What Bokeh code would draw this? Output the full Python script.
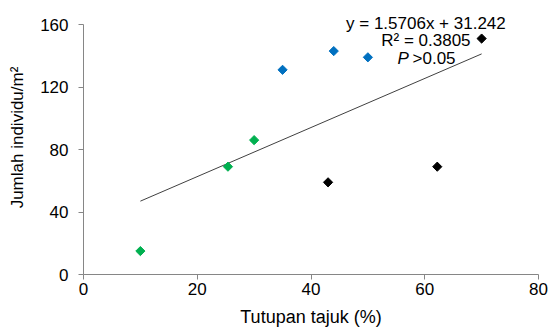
import numpy as np
from bokeh.plotting import figure
from bokeh.models import Range1d, FixedTicker
from bokeh.core.properties import value
from bokeh.embed import file_html
from bokeh.resources import INLINE

# ---- data ----
green_x = [10, 25.4, 30]
green_y = [15, 69, 86]
blue_x = [35, 44, 50]
blue_y = [131, 143, 139]
black_x = [43, 62.2, 70]
black_y = [59, 69, 151]
slope = 1.5706
intercept = 31.242
x_ticks = [0, 20, 40, 60, 80]
y_ticks = [0, 40, 80, 120, 160]
eq_text = "y = 1.5706x + 31.242"
r2_text = "R² = 0.3805"
p_label = "P"
p_text = ">0.05"
x_title = "Tutupan tajuk (%)"
y_title = "Jumlah individu/m²"

FONT = "Liberation Sans"
AXIS_COL = "#868686"

p = figure(width=549, height=329, output_backend="svg", toolbar_location=None,
           x_range=Range1d(0, 80), y_range=Range1d(0, 175.36),
           min_border_left=83, min_border_right=11, min_border_top=0,
           min_border_bottom=55)
p.outline_line_color = None
p.xgrid.visible = False
p.ygrid.visible = False
p.background_fill_color = "white"
p.border_fill_color = "white"

for ax in (p.xaxis[0], p.yaxis[0]):
    ax.axis_line_color = AXIS_COL
    ax.major_tick_line_color = AXIS_COL
    ax.minor_tick_line_color = None
    ax.major_tick_in = 0
    ax.major_tick_out = 5
    ax.major_label_text_font = FONT
    ax.major_label_text_font_size = "17px"
    ax.major_label_text_color = "black"
    ax.axis_label_text_font = FONT
    ax.axis_label_text_font_style = "normal"
    ax.axis_label_text_color = "black"

p.xaxis.axis_label_text_font_size = "18px"
p.yaxis.axis_label_text_font_size = "17px"
p.xaxis.ticker = FixedTicker(ticks=x_ticks)
p.yaxis.ticker = FixedTicker(ticks=y_ticks)
p.yaxis.bounds = (y_ticks[0], y_ticks[-1])
p.xaxis.axis_label = x_title
p.yaxis.axis_label = y_title
p.xaxis.major_label_standoff = 3
p.yaxis.major_label_standoff = 10
p.xaxis.axis_label_standoff = 9
p.yaxis.axis_label_standoff = 10

# trendline
all_x = green_x + blue_x + black_x
tx = np.array([min(all_x), max(all_x)])
p.line(tx, slope * tx + intercept, line_color="#404040", line_width=1)

for xs, ys, col in ((green_x, green_y, "#00B050"),
                    (blue_x, blue_y, "#0070C0"),
                    (black_x, black_y, "#000000")):
    p.scatter(xs, ys, marker="square", size=6.5, angle=np.pi / 4,
              fill_color=col, line_color=col)

# annotation text
txt = dict(text_baseline="alphabetic", text_font=value(FONT),
           text_font_size="17px", text_color="black")
p.text(x=[60.2], y=[160.4], text=[eq_text], text_align="center", **txt)
p.text(x=[60.2], y=[149.6], text=[r2_text], text_align="center", **txt)
p.text(x=[55.2], y=[138.0], text=[p_label], text_align="left",
       text_font_style="italic", **txt)
p.text(x=[57.85], y=[138.0], text=[p_text], text_align="left", **txt)

open("out.html", "w").write(file_html(p, INLINE))
